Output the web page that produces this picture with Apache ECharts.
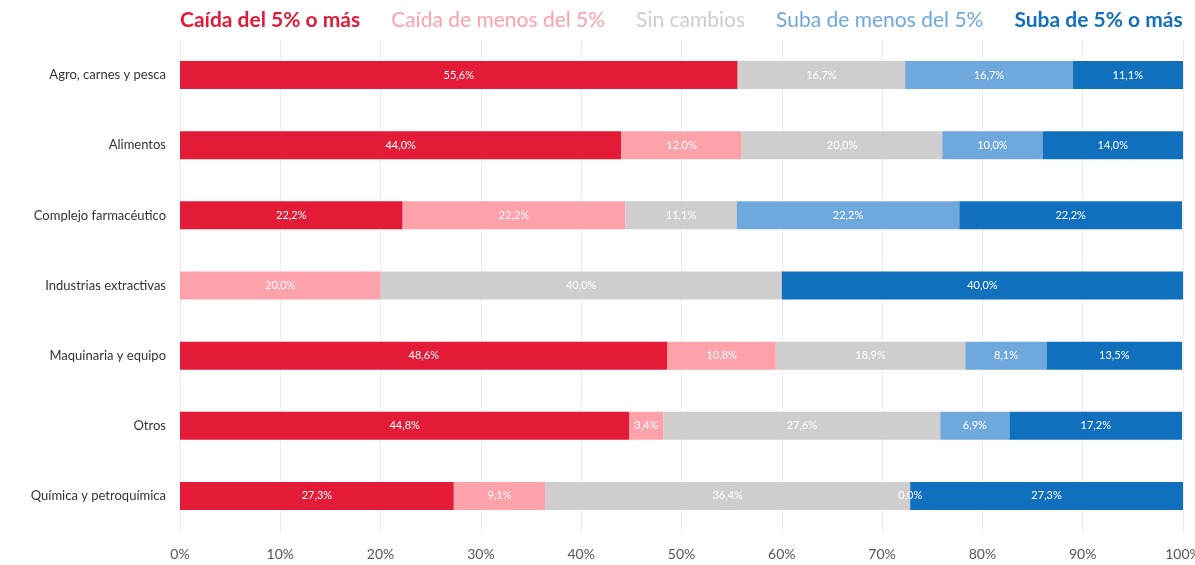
<!DOCTYPE html>
<html>
<head>
<meta charset="utf-8">
<script src="https://cdn.jsdelivr.net/npm/echarts@6/dist/echarts.min.js"></script>
<style>
  html, body { margin: 0; padding: 0; background: #fff; }
  #chart { width: 1195px; height: 565px; }
</style>
</head>
<body>
<div id="chart"></div>
<script>
// categorías (de arriba hacia abajo)
var sectores = ['Agro, carnes y pesca', 'Alimentos', 'Complejo farmacéutico', 'Industrias extractivas', 'Maquinaria y equipo', 'Otros', 'Química y petroquímica'];
var series_names = ['Caída del 5% o más', 'Caída de menos del 5%', 'Sin cambios', 'Suba de menos del 5%', 'Suba de 5% o más'];
var colores = ['#e31b36', '#fda1ab', '#cfcdcd', '#6fa8dc', '#1170bd'];

var caida5 = [55.6, 44.0, 22.2, null, 48.6, 44.8, 27.3];
var caidaMenos = [null, 12.0, 22.2, 20.0, 10.8, 3.4, 9.1];
var sinCambios = [16.7, 20.0, 11.1, 40.0, 18.9, 27.6, 36.4];
var subaMenos = [16.7, 10.0, 22.2, null, 8.1, 6.9, 0.0];
var suba5 = [11.1, 14.0, 22.2, 40.0, 13.5, 17.2, 27.3];

var ejeX = [0, 10, 20, 30, 40, 50, 60, 70, 80, 90, 100];

var valores = [caida5, caidaMenos, sinCambios, subaMenos, suba5];
var negritas = [true, false, false, false, true];

var chart = echarts.init(document.getElementById('chart'));

var series = valores.map(function (v, i) {
  return {
    name: series_names[i],
    type: 'bar',
    stack: 'total',
    barWidth: 28,
    data: v,
    itemStyle: { color: colores[i] },
    label: {
      show: true,
      position: 'inside',
      color: '#fff',
      fontFamily: 'Lato',
      fontSize: 11,
      formatter: function (p) {
        if (p.value === null || p.value === undefined) return '';
        return p.value.toFixed(1).replace('.', ',') + '%';
      }
    }
  };
});

chart.setOption({
  animation: false,
  legend: {
    top: 5,
    left: 170,
    itemWidth: 0,
    itemHeight: 0,
    itemGap: 26,
    icon: 'rect',
    data: series_names.map(function (n, i) {
      return {
        name: n,
        textStyle: {
          color: colores[i],
          fontWeight: negritas[i] ? 'bold' : 'normal',
          fontSize: 21,
          fontFamily: 'Lato'
        }
      };
    }),
    selectedMode: false
  },
  grid: { left: 180, right: 12, top: 40, bottom: 34, outerBoundsMode: 'none' },
  xAxis: {
    type: 'value',
    min: ejeX[0],
    max: ejeX[ejeX.length - 1],
    interval: 10,
    axisLine: { show: false },
    axisTick: { show: false },
    splitLine: { lineStyle: { color: '#ececec' } },
    axisLabel: {
      color: '#555',
      fontFamily: 'Lato',
      fontSize: 14,
      margin: 16,
      formatter: function (v) { return v + '%'; }
    }
  },
  yAxis: {
    type: 'category',
    data: sectores,
    inverse: true,
    axisLine: { show: false },
    axisTick: { show: false },
    axisLabel: { color: '#333', fontFamily: 'Lato', fontSize: 13, margin: 14 }
  },
  series: series
});
</script>
</body>
</html>
